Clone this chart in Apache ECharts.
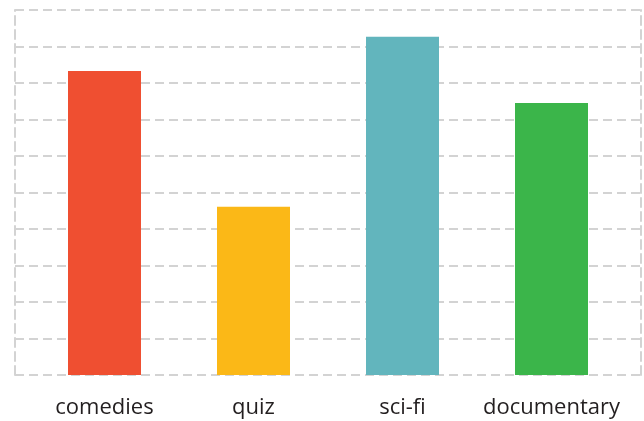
<!DOCTYPE html>
<html lang="en">
<head>
    <meta charset="UTF-8">
    <title>Genres</title>
    <script src="https://cdn.jsdelivr.net/npm/echarts@6/dist/echarts.min.js"></script>
    <style>
        html, body { margin: 0; padding: 0; background: #fff; }
        #chart { width: 644px; height: 421px; }
    </style>
</head>
<body>
    <div id="chart"></div>
    <script>
        // chart data
        const categories = ['comedies', 'quiz', 'sci-fi', 'documentary'];
        const values = [8.33, 4.61, 9.27, 7.45];
        const colors = ['#EF4F31', '#FBB817', '#62B5BD', '#3BB54A'];

        const dashed = { color: '#d3d3d3', width: 2, type: [9, 5] };

        const chart = echarts.init(document.getElementById('chart'));
        chart.setOption({
            animation: false,
            grid: [
                // frame with dashed grid lines
                { left: 15, right: 3, top: 10, bottom: 46 },
                // bars
                { left: 30, right: 18, top: 10, bottom: 46 }
            ],
            xAxis: [
                { gridIndex: 0, type: 'value', min: 0, max: 1, show: false },
                {
                    gridIndex: 1, type: 'category', data: categories,
                    axisLine: { show: false }, axisTick: { show: false },
                    axisLabel: { color: '#231f20', fontSize: 22, fontFamily: 'Open Sans', margin: 22, interval: 0 }
                }
            ],
            yAxis: [
                {
                    gridIndex: 0, type: 'value', min: 0, max: 10, interval: 1,
                    axisLine: { show: true, lineStyle: dashed },
                    axisTick: { show: false }, axisLabel: { show: false },
                    splitLine: { show: true, lineStyle: dashed }
                },
                {
                    gridIndex: 0, type: 'value', position: 'right', min: 0, max: 10, interval: 1,
                    axisLine: { show: true, lineStyle: dashed },
                    axisTick: { show: false }, axisLabel: { show: false },
                    splitLine: { show: false }
                },
                { gridIndex: 1, type: 'value', min: 0, max: 10, show: false, splitLine: { show: false } }
            ],
            series: [{
                type: 'bar',
                xAxisIndex: 1,
                yAxisIndex: 2,
                barWidth: 73,
                z: 5,
                data: values.map((v, i) => ({ value: v, itemStyle: { color: colors[i] } }))
            }]
        });
    </script>
</body>
</html>
